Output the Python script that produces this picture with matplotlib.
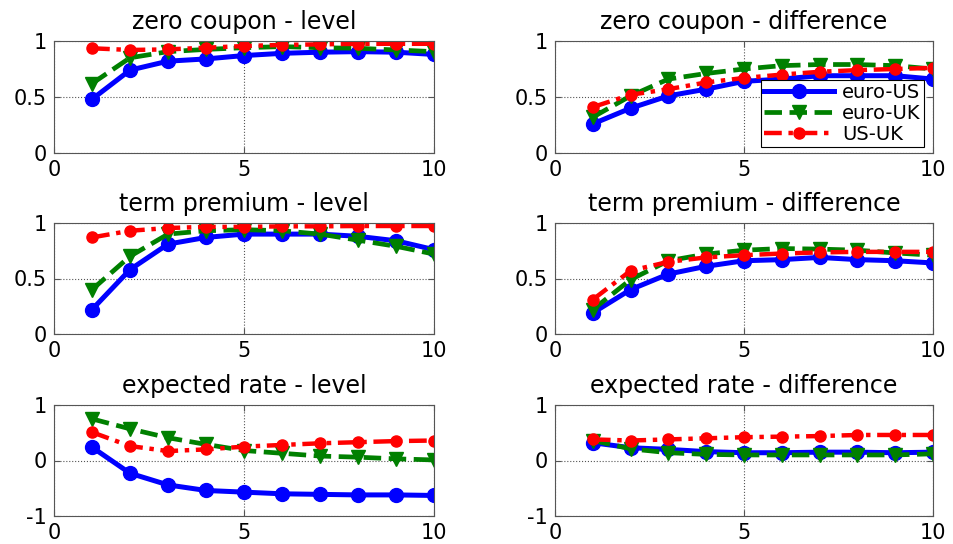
import numpy as np
import matplotlib
matplotlib.use("Agg")
import matplotlib.pyplot as plt

plt.rcParams["axes.unicode_minus"] = False

# maturities (years)
mat = list(range(1, 11))

# zero coupon
zc_lev_eu_us = [0.48, 0.74, 0.82, 0.84, 0.87, 0.89, 0.90, 0.905, 0.90, 0.88]
zc_lev_eu_uk = [0.62, 0.85, 0.905, 0.925, 0.94, 0.95, 0.94, 0.935, 0.92, 0.905]
zc_lev_us_uk = [0.935, 0.92, 0.925, 0.94, 0.955, 0.965, 0.97, 0.975, 0.975, 0.975]
zc_dif_eu_us = [0.26, 0.40, 0.51, 0.57, 0.64, 0.66, 0.69, 0.69, 0.69, 0.66]
zc_dif_eu_uk = [0.32, 0.51, 0.66, 0.71, 0.75, 0.78, 0.79, 0.79, 0.78, 0.75]
zc_dif_us_uk = [0.41, 0.52, 0.57, 0.63, 0.67, 0.70, 0.725, 0.74, 0.75, 0.76]

# term premium
tp_lev_eu_us = [0.22, 0.58, 0.81, 0.87, 0.90, 0.90, 0.90, 0.88, 0.84, 0.76]
tp_lev_eu_uk = [0.40, 0.70, 0.90, 0.93, 0.94, 0.93, 0.90, 0.845, 0.79, 0.72]
tp_lev_us_uk = [0.87, 0.93, 0.955, 0.965, 0.965, 0.97, 0.97, 0.973, 0.973, 0.973]
tp_dif_eu_us = [0.19, 0.40, 0.54, 0.61, 0.66, 0.67, 0.69, 0.67, 0.66, 0.64]
tp_dif_eu_uk = [0.22, 0.49, 0.66, 0.72, 0.755, 0.77, 0.765, 0.755, 0.73, 0.71]
tp_dif_us_uk = [0.31, 0.57, 0.65, 0.69, 0.71, 0.725, 0.735, 0.74, 0.74, 0.74]

# expected rate
er_lev_eu_us = [0.24, -0.23, -0.44, -0.54, -0.57, -0.60, -0.61, -0.62, -0.62, -0.63]
er_lev_eu_uk = [0.75, 0.57, 0.41, 0.29, 0.18, 0.13, 0.08, 0.06, 0.03, 0.01]
er_lev_us_uk = [0.51, 0.26, 0.17, 0.20, 0.25, 0.28, 0.31, 0.33, 0.35, 0.36]
er_dif_eu_us = [0.32, 0.23, 0.20, 0.16, 0.14, 0.14, 0.15, 0.15, 0.14, 0.15]
er_dif_eu_uk = [0.36, 0.21, 0.14, 0.11, 0.10, 0.10, 0.10, 0.10, 0.10, 0.12]
er_dif_us_uk = [0.38, 0.36, 0.38, 0.40, 0.42, 0.43, 0.44, 0.46, 0.46, 0.46]

titles = ["zero coupon - level", "zero coupon - difference",
          "term premium - level", "term premium - difference",
          "expected rate - level", "expected rate - difference"]
panels = [
    (zc_lev_eu_us, zc_lev_eu_uk, zc_lev_us_uk),
    (zc_dif_eu_us, zc_dif_eu_uk, zc_dif_us_uk),
    (tp_lev_eu_us, tp_lev_eu_uk, tp_lev_us_uk),
    (tp_dif_eu_us, tp_dif_eu_uk, tp_dif_us_uk),
    (er_lev_eu_us, er_lev_eu_uk, er_lev_us_uk),
    (er_dif_eu_us, er_dif_eu_uk, er_dif_us_uk),
]
labels = ["euro-US", "euro-UK", "US-UK"]

fig = plt.figure(figsize=(9.54, 5.44), dpi=100)

# axes boxes in pixels (left, top, right, bottom)
cols = [(54, 434), (555, 933)]
rows = [(41, 153), (223, 334), (405, 516)]
W, H = 954.0, 544.0

for k in range(6):
    r, c = k // 2, k % 2
    x0, x1 = cols[c]
    y0, y1 = rows[r]
    ax = fig.add_axes([x0 / W, 1 - y1 / H, (x1 - x0) / W, (y1 - y0) / H])
    s1, s2, s3 = panels[k]
    ax.plot(mat, s1, color="#0000FF", lw=3.6, marker="o", ms=10, label=labels[0])
    ax.plot(mat, s2, color="#008000", lw=3.4, ls="--", marker="v", ms=10,
            label=labels[1])
    ax.plot(mat, s3, color="#FF0000", lw=3.2, ls=(0, (4, 1.5, 1, 1.5)),
            marker="o", ms=8, label=labels[2])
    ax.set_xlim(0, 10)
    ax.set_xticks([0, 5, 10])
    if r < 2:
        ax.set_ylim(0, 1)
        ax.set_yticks([0, 0.5, 1])
        ax.set_yticklabels(["0", "0.5", "1"])
    else:
        ax.set_ylim(-1, 1)
        ax.set_yticks([-1, 0, 1])
    ax.grid(True, ls=":", color="#555555", lw=0.8)
    ax.tick_params(direction="in", length=4, labelsize=15, top=True, right=True,
                   color="#555555")
    ax.tick_params(axis="y", pad=5)
    ax.tick_params(axis="x", pad=5)
    for sp in ax.spines.values():
        sp.set_color("#555555")
        sp.set_linewidth(0.8)
    ax.set_title(titles[k], fontsize=17, pad=9)
    if k == 1:
        leg = ax.legend(loc="upper right", bbox_to_anchor=(0.975, 0.655),
                        borderaxespad=0, fontsize=14, handlelength=3.6,
                        labelspacing=0.12, fancybox=False, framealpha=1,
                        edgecolor="black", borderpad=0.15, handletextpad=0.4)
        leg.get_frame().set_linewidth(0.8)

fig.savefig("out.png", dpi=100)
